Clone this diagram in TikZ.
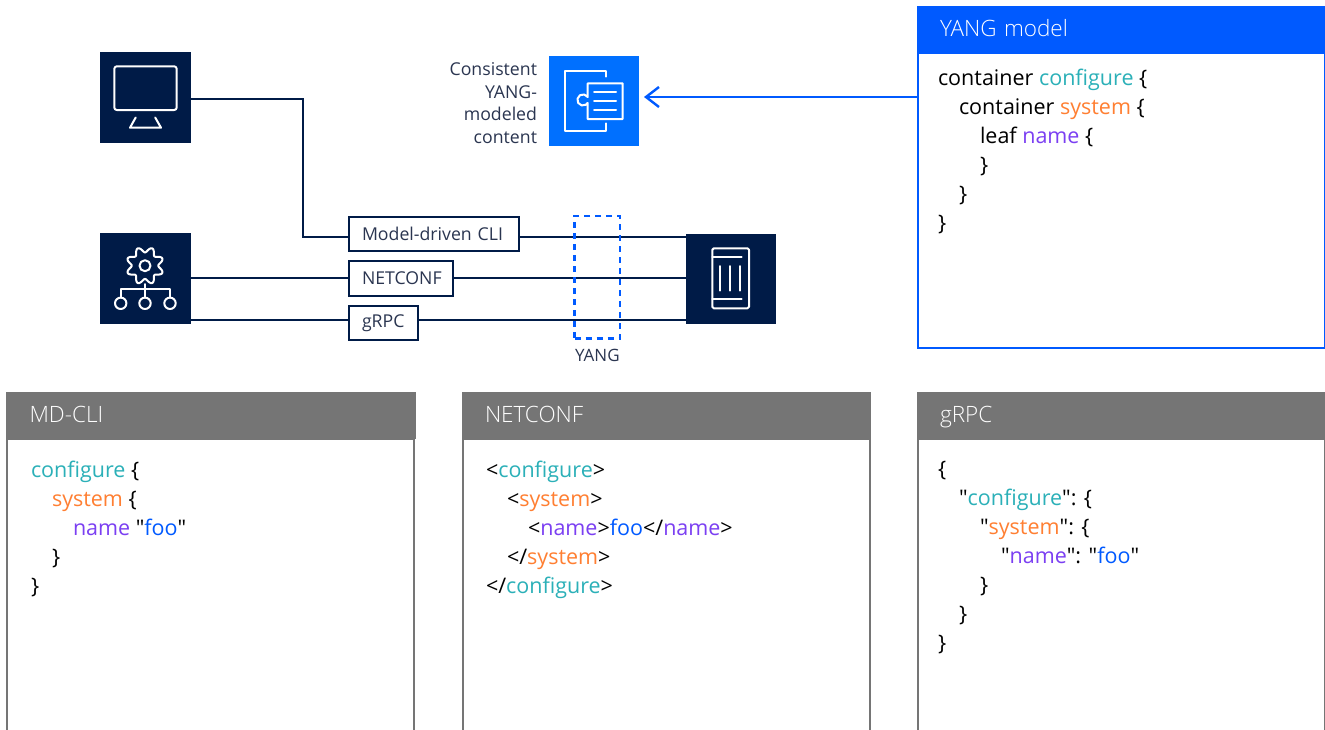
\documentclass[tikz,border=0pt]{standalone}
\usepackage{fontspec}
\setmainfont{Open Sans}
\newfontfamily\codefont{Open Sans}
\newfontfamily\headfont{Open Sans Light}
\usetikzlibrary{positioning, arrows.meta}
\definecolor{navy}{HTML}{001B47}
\definecolor{labelc}{HTML}{2A3550}
\definecolor{nblue}{HTML}{005AFF}
\definecolor{iconblue}{HTML}{0070FF}
\definecolor{panelgray}{HTML}{757575}
\definecolor{cteal}{HTML}{2BB0B8}
\definecolor{corange}{HTML}{FF7F32}
\definecolor{cpurple}{HTML}{7B3FF2}
\newcommand{\kcfg}[1]{\textcolor{cteal}{#1}}
\newcommand{\ksys}[1]{\textcolor{corange}{#1}}
\newcommand{\knam}[1]{\textcolor{cpurple}{#1}}
\newcommand{\kval}[1]{\textcolor{nblue}{#1}}
\newcommand{\ind}[1]{\hspace*{#1pt}}

\begin{document}
\begin{tikzpicture}[x=1pt, y=-1pt, auto, node distance=0pt, line width=2pt, every node/.style={outer sep=0pt}]
  \tikzstyle{tile} = [rectangle, fill=navy, minimum size=91pt, inner sep=0pt, anchor=north west]
  \tikzstyle{tag} = [draw=navy, rectangle, text=labelc, font=\fontsize{17.7}{20}\selectfont, anchor=north west, minimum height=34.5pt, inner sep=0pt, inner xsep=13pt, align=left]
  \tikzstyle{head} = [rectangle, text=white, font=\headfont\fontsize{22.5}{26}\selectfont, anchor=north west, minimum height=47pt, text width=362.5pt, text height=18pt, text depth=3.5pt, inner ysep=0pt, inner xsep=23.5pt, align=left]
  \tikzstyle{body} = [draw, fill=white, line width=2pt, rectangle, minimum width=407pt, inner sep=0pt]
  \tikzstyle{code} = [font=\codefont\fontsize{21.5}{29}\selectfont, align=left, anchor=north west, inner sep=0pt, text=black]
  \tikzstyle{icon} = [draw=white, line width=2pt, line join=round, line cap=round]
  \tikzstyle{tmp} = [coordinate]
  \useasboundingbox (0,0) rectangle (1325,729);
  \clip (0,0) rectangle (1325,729);

  % top row
  \node [tile] (monitor) at (100,52) {};
  \node [tile] (gears) at (100,233) {};
  \node [tile, minimum size=90pt] (device) at (686,234) {};
  \node [tile, fill=iconblue, minimum size=90pt] (content) at (549,56) {};
  \node [left=12pt of content, yshift=-2pt, align=right, text=labelc, inner sep=0pt,
    font=\fontsize{17.7}{22.7}\selectfont] (contentlabel) {Consistent\\YANG-\\modeled\\content};

  % protocol boxes
  \node [tag, text width=144pt] (cli) at (349,216.5) {Model-driven CLI};
  \node [tag, text width=78pt] (netconf) at (349,261) {NETCONF};
  \node [tag, text width=43pt] (grpc) at (349,305.5) {gRPC};
  \node [tmp] (lineA) at (0,237) {};
  \node [tmp] (lineB) at (0,278) {};
  \node [tmp] (lineC) at (0,320) {};
  \node [tmp] (bend) at (302.5,99) {};
  \node [tmp] (arrowend) at (644,97) {};

  \draw [navy, line join=miter] (monitor.east |- bend) -- (bend) |- (cli.west |- lineA);
  \draw [navy] (gears.east |- lineB) -- (netconf.west |- lineB);
  \draw [navy] (gears.east |- lineC) -- (grpc.west |- lineC);
  \draw [navy] (cli.east |- lineA) -- (device.west |- lineA);
  \draw [navy] (netconf.east |- lineB) -- (device.west |- lineB);
  \draw [navy] (grpc.east |- lineC) -- (device.west |- lineC);

  % yang marker
  \node [draw=nblue, dash pattern=on 6pt off 5pt, line width=2.5pt, rectangle, inner sep=0pt,
    minimum width=45.5pt, minimum height=122.5pt, anchor=north west] (yangmark) at (574.7,215.8) {};
  \node [below=10.5pt of yangmark, text=labelc, inner sep=0pt, font=\fontsize{17}{20}\selectfont] (yanglabel) {YANG};

  % monitor icon
  \draw [icon, rounded corners=2.5pt] (114.3,66.3) rectangle (176.7,110);
  \draw [icon] (135.7,117.5) -- (130,127.7) -- (161,127.7) -- (155.2,117.5);
  % gear icon
  \draw [icon, smooth cycle] plot [samples=97, domain=0:360]
    ({145+(16+2.8*cos(8*\x))*cos(\x+22.5)}, {265.7+(16+2.8*cos(8*\x))*sin(\x+22.5)});
  \draw [icon] (145,265.7) circle [radius=5.5pt];
  \draw [icon] (145,284) -- (145,297.5);
  \draw [icon] (120.7,297.5) -- (120.7,289.3) -- (170,289.3) -- (170,297.5);
  \foreach \cx in {120.7,145,170}
    \draw [icon] (\cx,303.3) circle [radius=5.7pt];
  % device icon
  \draw [icon, rounded corners=1.5pt] (712.3,248.3) rectangle (749,308.3);
  \draw [icon] (712.3,257.3) -- (741.7,257.3);
  \draw [icon] (712.3,299.3) -- (741.7,299.3);
  \foreach \cx in {720.3,730.3,740.3}
    \draw [icon] (\cx,266) -- (\cx,290.7);
  % content icon
  \draw [icon] (605.7,76.7) -- (605.7,70.7) -- (565,70.7) -- (565,131) -- (605.7,131) -- (605.7,123.3);
  \draw [icon] (587.7,97) arc [start angle=32, end angle=328, radius=5.6pt]
    -- (587.7,119) -- (622.7,119) -- (622.7,83.3) -- (587.7,83.3) -- cycle;
  \foreach \cy in {92.3,101,110}
    \draw [icon] (594,\cy) -- (616,\cy);

  % yang model panel
  \node [body, draw=nblue, minimum height=295pt, anchor=north west] (yangbody) at (917.5,53) {};
  \node [head, fill=nblue] (yanghead) at (916.5,6) {YANG model};
  \node [code] (yangcode) at (938,69) {container \kcfg{configure} \{\\
    \ind{21}container \ksys{system} \{\\
    \ind{42}leaf \knam{name} \{\\
    \ind{42}\}\\
    \ind{21}\}\\
    \}};
  \draw [nblue, line width=2.4pt, -{Straight Barb[length=13pt, width=20pt]}] (yangbody.west |- arrowend) -- (arrowend);

  % lower panels
  \node [head, fill=panelgray] (clihead) at (6,392) {MD-CLI};
  \node [body, draw=panelgray, minimum height=320pt, below=0pt of clihead] (clibody) {};
  \node [code] (clicode) at (31,461) {\kcfg{configure} \{\\
    \ind{21}\ksys{system} \{\\
    \ind{42}\knam{name} "\kval{foo}"\\
    \ind{21}\}\\
    \}};

  \node [head, fill=panelgray] (confhead) at (461.5,392) {NETCONF};
  \node [body, draw=panelgray, minimum height=320pt, below=0pt of confhead] (confbody) {};
  \node [code] (confcode) at (486,461) {<\kcfg{configure}>\\
    \ind{21}<\ksys{system}>\\
    \ind{42}<\knam{name}>\kval{foo}</\knam{name}>\\
    \ind{21}</\ksys{system}>\\
    </\kcfg{configure}>};

  \node [head, fill=panelgray] (rpchead) at (916.5,392) {gRPC};
  \node [body, draw=panelgray, minimum height=320pt, below=0pt of rpchead] (rpcbody) {};
  \node [code] (rpccode) at (938,461) {\{\\
    \ind{21}"\kcfg{configure}": \{\\
    \ind{42}"\ksys{system}": \{\\
    \ind{63}"\knam{name}": "\kval{foo}"\\
    \ind{42}\}\\
    \ind{21}\}\\
    \}};
\end{tikzpicture}
\end{document}
